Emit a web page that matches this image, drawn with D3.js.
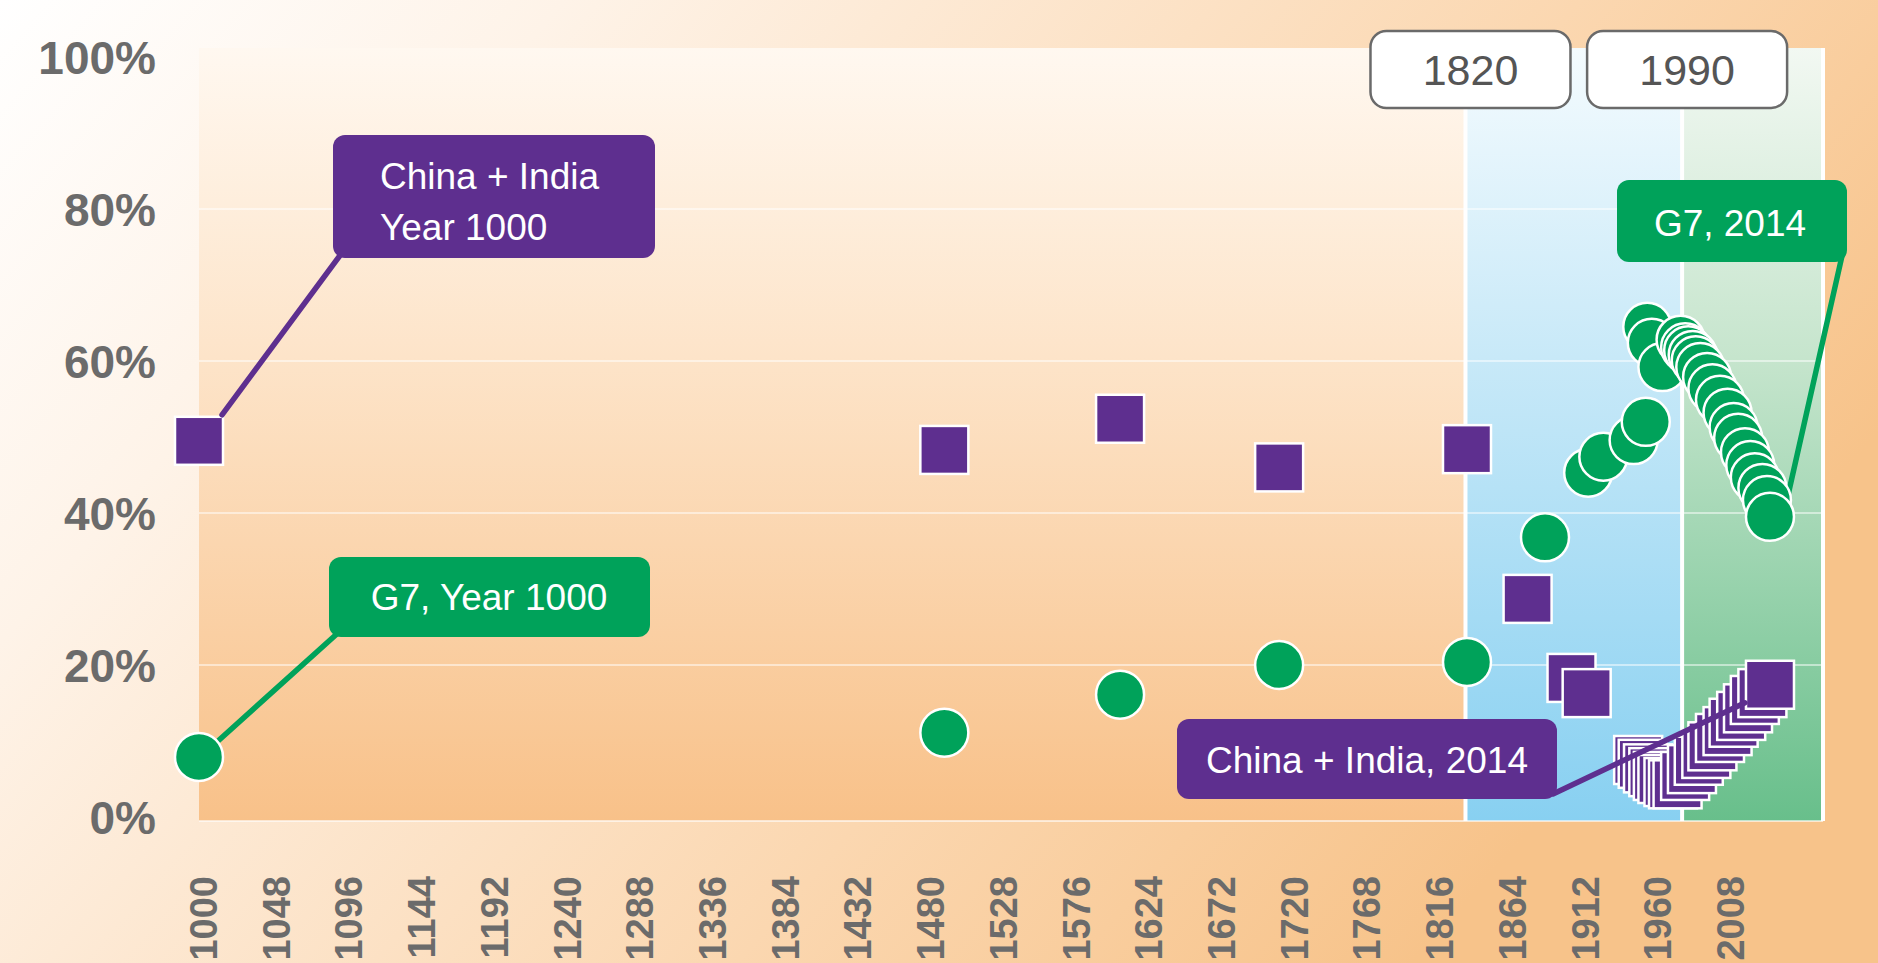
<!DOCTYPE html>
<html><head><meta charset="utf-8">
<script src="https://cdn.jsdelivr.net/npm/d3@7"></script>
<style>html,body{margin:0;padding:0;overflow:hidden;background:#fff}svg{display:block}</style>
</head><body>
<svg id="chart" width="1878" height="963"></svg>
<script>
// ---------- data (x values read against the year axis of the picture) ----------
const xTickLabels = [1000,1048,1096,1144,1192,1240,1288,1336,1384,1432,1480,1528,1576,1624,1672,1720,1768,1816,1864,1912,1960,2008];
const yTickLabels = [0,20,40,60,80,100];

const chinaIndiaYears = [1000,1492,1608,1713,1837,1877,1906,1916,
  1950,1953,1956.5,1960,1963,1966,1970,1973,
  1976,1981,1985.5,1990,1995,1999,2004,2009,2013,2018,2022.5,2027,2032,2037];
const chinaIndiaShare = [49.5,48.3,52.4,46.0,48.4,28.7,18.3,16.3,
  7.5,7.0,6.4,5.9,5.4,5.0,4.6,4.3,
  4.3,5.4,6.3,7.4,8.3,9.3,10.4,11.3,12.4,13.3,14.3,15.4,16.3,17.4];

const g7Years = [1000,1492,1608,1713,1837,1888.5,1917,1927,1947,1955,1956,1959,1966,
  1978,1981,1983,1986,1988,1991,1995.5,1999,2004,2009,2013,2016,2020.5,2024,2027,2032,2035,2037];
const g7Share = [7.9,11.1,16.1,20.0,20.4,36.8,45.3,47.4,49.6,52.0,64.5,62.4,59.2,
  62.8,61.8,61.4,60.8,60.1,59.2,57.9,56.4,54.9,53.2,51.3,49.9,48.0,46.3,44.7,43.3,41.7,39.5];

const eraLabels = ["1820","1990"];
const eraStarts = [1836,1979];
const axisEnd = 2072;

// ---------- setup ----------
const W = 1878, H = 963;
const purple = "#5e2f8f", green = "#00a25a";
const svg = d3.select("#chart");
const x = d3.scaleLinear().domain([1000, axisEnd]).range([199, 1823]);
const y = d3.scaleLinear().domain([0, 100]).range([817, 57]);
const plotTop = 48, plotBottom = y(0) + 4;

const defs = svg.append("defs");
function grad(id, x2, y2, stops){
  const g = defs.append("linearGradient").attr("id", id)
    .attr("x1",0).attr("y1",0).attr("x2",x2).attr("y2",y2);
  stops.forEach(s => g.append("stop").attr("offset", s[0]).attr("stop-color", s[1]));
}
grad("bg", 1, 0.45, [[0,"#ffffff"],[0.25,"#fef3e8"],[0.7,"#fbd7b0"],[1,"#f7c38a"]]);
grad("plotbg", 0, 1, [[0,"#fff8f0"],[0.4,"#fde4c9"],[1,"#f8c189"]]);
grad("blue", 0, 1, [[0,"#f4fbfe"],[0.4,"#c8e9f8"],[1,"#88d0f1"]]);
grad("greenbg", 0, 1, [[0,"#f2f8f2"],[0.4,"#c6e5cd"],[1,"#68bf8b"]]);

svg.append("rect").attr("width", W).attr("height", H).attr("fill", "url(#bg)");

// plot area
svg.append("rect").attr("x", x(1000)).attr("y", plotTop)
  .attr("width", x(axisEnd) - x(1000)).attr("height", plotBottom - plotTop)
  .attr("fill", "url(#plotbg)");

// era bands
const bandEnds = [eraStarts[1], axisEnd];
svg.selectAll("rect.band").data(eraStarts).join("rect").attr("class","band")
  .attr("x", d => x(d)).attr("y", plotTop)
  .attr("width", (d,i) => x(bandEnds[i]) - x(d)).attr("height", plotBottom - plotTop)
  .attr("fill", (d,i) => i === 0 ? "url(#blue)" : "url(#greenbg)");

// gridlines
svg.selectAll("line.grid").data(yTickLabels.filter(v => v > 0 && v < 100)).join("line")
  .attr("x1", x(1000)).attr("x2", x(axisEnd)).attr("y1", d => y(d)).attr("y2", d => y(d))
  .attr("stroke", "#ffffff").attr("stroke-opacity", 0.5).attr("stroke-width", 2);

// white separators
svg.selectAll("line.sep").data([eraStarts[0], eraStarts[1], axisEnd]).join("line")
  .attr("x1", d => x(d)).attr("x2", d => x(d)).attr("y1", plotTop).attr("y2", plotBottom)
  .attr("stroke", "#ffffff").attr("stroke-width", 4);
svg.append("line").attr("x1", x(1000)).attr("x2", x(axisEnd))
  .attr("y1", plotBottom).attr("y2", plotBottom)
  .attr("stroke", "#ffffff").attr("stroke-opacity", 0.6).attr("stroke-width", 2);

// axes
const font = "'Liberation Sans', Arial, Helvetica, sans-serif";
const yAxis = d3.axisLeft(y).tickValues(yTickLabels).tickFormat(d => d + "%").tickSize(0).tickPadding(0);
const gy = svg.append("g").attr("transform", "translate(156,2)").call(yAxis);
gy.select(".domain").remove();
gy.selectAll("text").attr("font-family", font).attr("font-weight", "bold")
  .attr("font-size", 46).attr("fill", "#6b6b6b");

const xAxis = d3.axisBottom(x).tickValues(xTickLabels).tickFormat(d3.format("d")).tickSize(0);
const gx = svg.append("g").attr("transform", "translate(0,876)").call(xAxis);
gx.select(".domain").remove();
gx.selectAll("text").attr("font-family", font).attr("font-weight", "bold")
  .attr("font-size", 38).attr("fill", "#6b6b6b")
  .attr("text-anchor", "end").attr("transform", "rotate(-90)")
  .attr("x", 0).attr("y", 0).attr("dy", "0.46em");

// markers
const ci = chinaIndiaYears.map((yr, i) => ({yr, v: chinaIndiaShare[i]}));
const g7 = g7Years.map((yr, i) => ({yr, v: g7Share[i]}));
const half = 24;

svg.selectAll("rect.ci").data(ci).join("rect").attr("class","ci")
  .attr("x", d => x(d.yr) - half).attr("y", d => y(d.v) - half)
  .attr("width", half*2).attr("height", half*2)
  .attr("fill", purple).attr("stroke", "#ffffff").attr("stroke-width", 2.5);

// annotations
const annos = [
  {lines:["China + India","Year 1000"], fill:purple, box:[333,135,322,123], align:"start", tx:380, ty:[189,240],
   from:[341,254], target: () => [x(ci[0].yr)+23, y(ci[0].v)-26]},
  {lines:["G7, Year 1000"], fill:green, box:[329,557,321,80], align:"middle", tx:489, ty:[610],
   from:[339,632], target: () => [x(g7[0].yr)+19, y(g7[0].v)-16]},
  {lines:["G7, 2014"], fill:green, box:[1617,180,230,82], align:"middle", tx:1730, ty:[236],
   from:[1842,256], target: () => [x(g7[g7.length-1].yr)+17, y(g7[g7.length-1].v)-17]},
  {lines:["China + India, 2014"], fill:purple, box:[1177,719,380,80], align:"middle", tx:1367, ty:[773],
   from:[1553,794], target: () => [x(ci[ci.length-1].yr)-25, y(ci[ci.length-1].v)+18]}
];

// connectors (over squares, under circles)
annos.forEach(a => {
  const t = a.target();
  svg.append("line").attr("x1", a.from[0]).attr("y1", a.from[1]).attr("x2", t[0]).attr("y2", t[1])
    .attr("stroke", a.fill).attr("stroke-width", 5.5).attr("stroke-linecap", "round");
});

svg.selectAll("circle.g7").data(g7).join("circle").attr("class","g7")
  .attr("cx", d => x(d.yr)).attr("cy", d => y(d.v)).attr("r", 24)
  .attr("fill", green).attr("stroke", "#ffffff").attr("stroke-width", 2.5);

annos.forEach(a => {
  svg.append("rect").attr("x", a.box[0]).attr("y", a.box[1]).attr("width", a.box[2]).attr("height", a.box[3])
    .attr("rx", 12).attr("fill", a.fill);
  a.lines.forEach((l, i) => {
    svg.append("text").attr("x", a.tx).attr("y", a.ty[i]).attr("text-anchor", a.align)
      .attr("font-family", font).attr("font-size", 37).attr("fill", "#ffffff").text(l);
  });
});

// era boxes
const eraW = 200, eraH = 77;
const eg = svg.selectAll("g.era").data(eraStarts).join("g").attr("class","era")
  .attr("transform", d => `translate(${x(d) + 5},31)`);
eg.append("rect").attr("x", -eraW/2).attr("y", 0).attr("width", eraW).attr("height", eraH)
  .attr("rx", 16).attr("fill", "#ffffff").attr("stroke", "#6a6a6a").attr("stroke-width", 2.5);
eg.append("text").attr("x", 0).attr("y", 54).attr("text-anchor", "middle")
  .attr("font-family", font).attr("font-size", 43).attr("fill", "#555555")
  .text((d,i) => eraLabels[i]);
</script>
</body></html>
